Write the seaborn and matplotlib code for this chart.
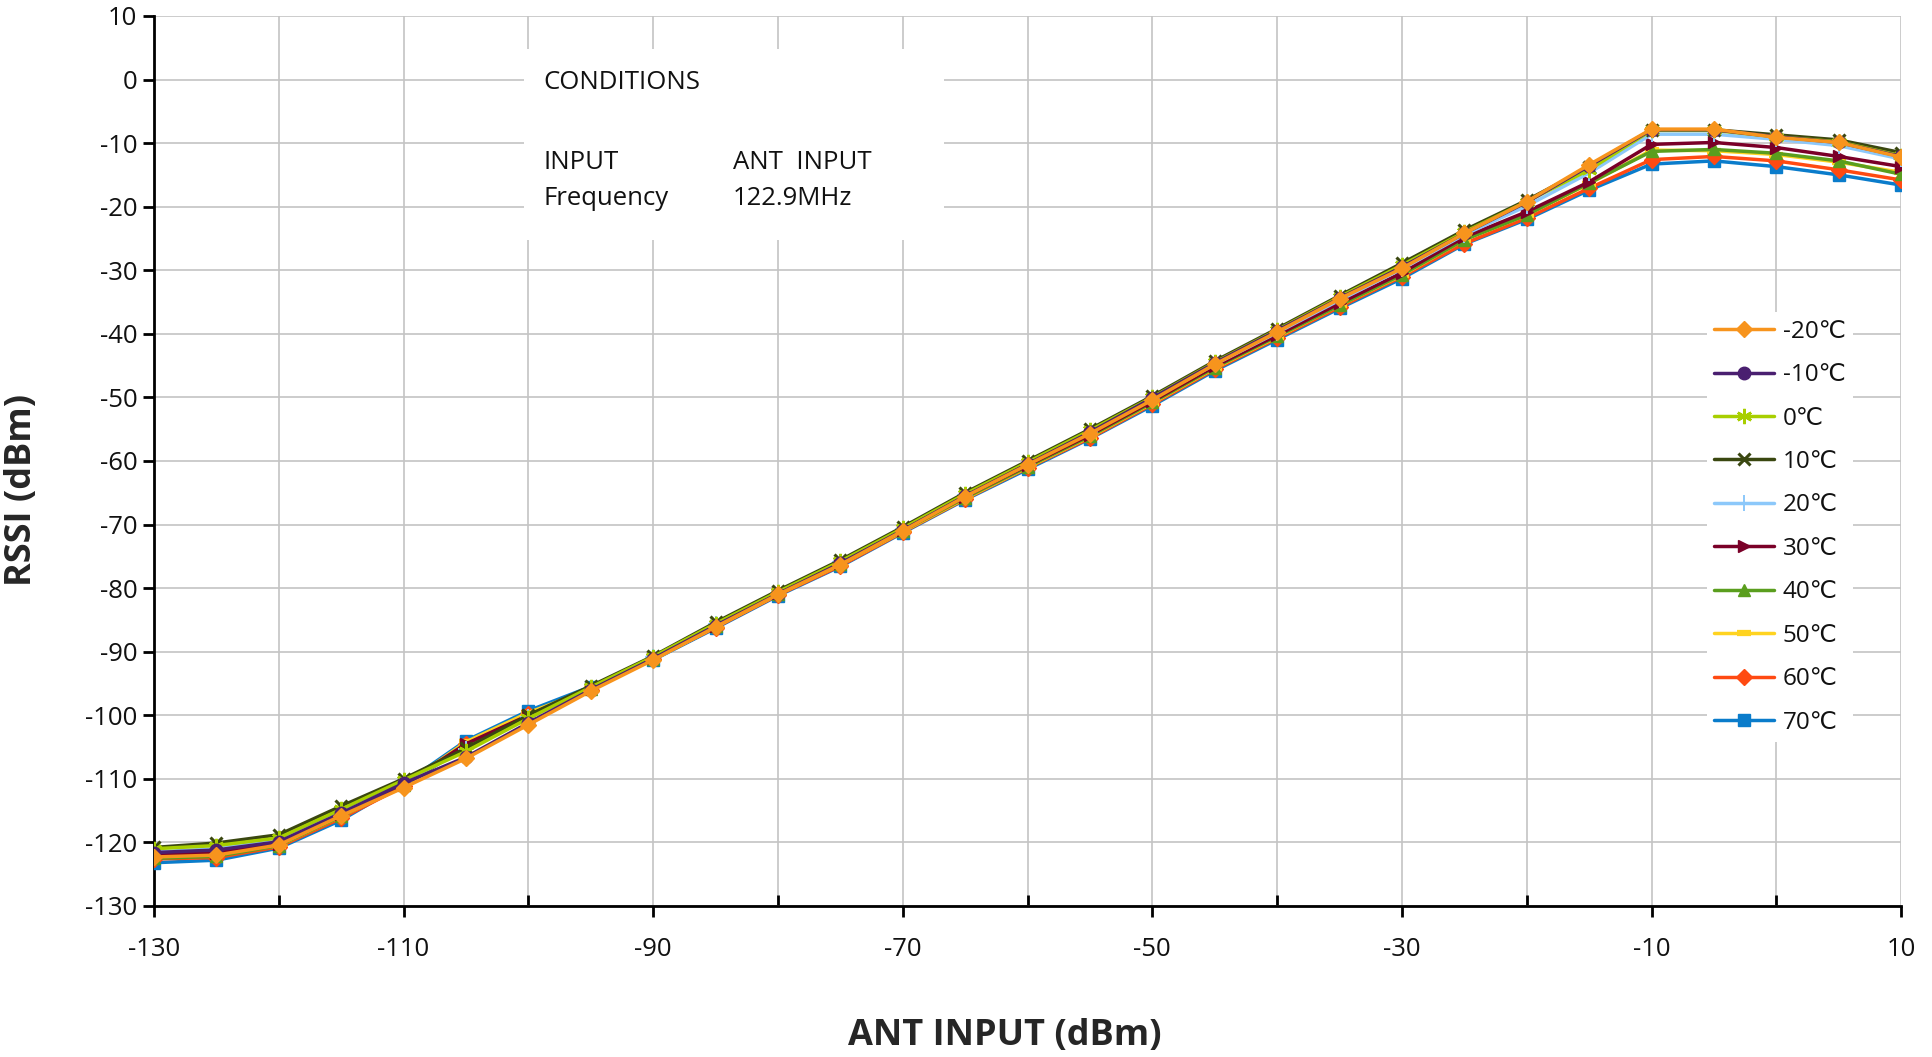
import numpy as np
import pandas as pd
import matplotlib
matplotlib.use('Agg')
import matplotlib.pyplot as plt
from matplotlib.patches import Rectangle
from matplotlib.ticker import MultipleLocator, FixedLocator
import seaborn as sns

# ANT input levels (dBm)
ant_input = [-130, -125, -120, -115, -110, -105, -100, -95, -90, -85, -80, -75, -70, -65,
             -60, -55, -50, -45, -40, -35, -30, -25, -20, -15, -10, -5, 0, 5, 10]

temps = ['-20℃', '-10℃', '0℃', '10℃', '20℃', '30℃', '40℃', '50℃', '60℃', '70℃']

rssi_m20 = [-122.3, -122.0, -120.4, -115.8, -111.4, -106.8, -101.5, -96.2, -91.3, -86.1, -81.0, -76.3,
            -71.0, -65.6, -60.6, -55.7, -50.4, -44.8, -39.7, -34.5, -29.7, -24.2, -19.2, -13.4,
            -7.8, -7.8, -9.1, -9.9, -12.2]
rssi_m10 = [-121.6, -121.2, -119.9, -115.4, -110.7, -106.6, -101.2, -96.0, -91.1, -85.9, -80.9, -76.1,
            -70.9, -65.5, -60.5, -55.5, -50.1, -44.6, -39.5, -34.4, -29.5, -24.2, -19.3, -13.6,
            -7.9, -7.9, -9.0, -9.9, -12.1]
rssi_0 = [-121.0, -120.5, -119.3, -114.8, -110.2, -105.7, -100.5, -95.6, -90.8, -85.6, -80.6, -75.8,
          -70.6, -65.2, -60.2, -55.2, -50.0, -44.5, -39.4, -34.2, -29.2, -24.0, -19.2, -14.2,
          -8.0, -8.0, -9.0, -9.8, -12.0]
rssi_10 = [-120.8, -120.1, -118.8, -114.3, -110.0, -105.2, -100.0, -95.4, -90.7, -85.4, -80.4, -75.6,
           -70.4, -65.0, -60.0, -55.0, -49.8, -44.3, -39.2, -34.0, -28.9, -23.7, -19.0, -13.8,
           -7.9, -7.9, -8.7, -9.5, -11.5]
rssi_20 = [-121.5, -121.0, -119.6, -115.0, -110.5, -105.3, -100.3, -95.7, -90.9, -85.7, -80.7, -75.9,
           -70.7, -65.4, -60.4, -55.5, -50.2, -44.8, -39.8, -34.7, -29.8, -24.4, -19.9, -14.7,
           -8.6, -8.6, -9.4, -10.4, -12.5]
rssi_30 = [-122.0, -121.6, -120.2, -115.6, -110.9, -104.5, -100.0, -95.8, -91.0, -85.9, -80.8, -76.1,
           -70.9, -65.6, -60.7, -55.9, -50.6, -45.1, -40.2, -35.2, -30.4, -24.8, -20.8, -16.1,
           -10.2, -9.9, -10.7, -12.1, -13.7]
rssi_40 = [-122.5, -122.2, -120.5, -115.9, -111.0, -105.0, -100.2, -95.8, -91.1, -86.0, -80.9, -76.2,
           -71.0, -65.8, -60.9, -56.1, -50.8, -45.3, -40.4, -35.5, -30.7, -25.2, -21.3, -16.3,
           -11.3, -11.0, -11.6, -12.8, -14.9]
rssi_50 = [-122.3, -121.9, -120.5, -115.9, -111.1, -104.2, -99.6, -95.9, -91.2, -86.1, -81.0, -76.3,
           -71.1, -65.9, -61.0, -56.2, -50.9, -45.4, -40.5, -35.5, -30.8, -25.2, -21.3, -16.4,
           -11.1, -11.2, -11.8, -13.0, -14.6]
rssi_60 = [-122.6, -122.4, -120.7, -116.2, -111.2, -104.5, -99.8, -96.0, -91.2, -86.2, -81.1, -76.5,
           -71.2, -66.0, -61.1, -56.4, -51.1, -45.6, -40.7, -35.8, -31.0, -25.8, -21.8, -17.1,
           -12.6, -12.1, -12.8, -14.2, -15.8]
rssi_70 = [-123.2, -122.8, -120.9, -116.5, -110.8, -104.0, -99.3, -95.5, -91.3, -86.3, -81.2, -76.6,
           -71.3, -66.1, -61.3, -56.5, -51.3, -45.8, -40.9, -36.0, -31.3, -25.9, -22.0, -17.4,
           -13.3, -12.8, -13.7, -15.0, -16.6]

all_rssi = [rssi_m20, rssi_m10, rssi_0, rssi_10, rssi_20, rssi_30, rssi_40, rssi_50, rssi_60, rssi_70]

colors = ['#F7941D', '#4A1F70', '#A8CF00', '#3A4710', '#8CC8FA',
          '#7A0028', '#5A9E1E', '#FFD320', '#FF4A12', '#0A7CCB']
# marker, size, edge width
styles = [('D', 8, 1), ('o', 9, 1), ((6, 2, 0), 11, 1.8), ('x', 9, 2.2), ('+', 12, 1.4),
          ('>', 9, 1), ('^', 9, 1), ('_', 10, 4.5), ('D', 8, 1), ('s', 8.5, 1)]

rows = []
for t, vals in zip(temps, all_rssi):
    for x, y in zip(ant_input, vals):
        rows.append({'temp': t, 'ant': x, 'rssi': y})
df = pd.DataFrame(rows)

sns.set_theme(style='white')
plt.rcParams['font.family'] = ['Open Sans', 'DejaVu Sans']
plt.rcParams['axes.unicode_minus'] = False

fig = plt.figure(figsize=(19.32, 10.57), dpi=100)
ax = fig.add_axes([0.0797, 0.1429, 0.9043, 0.842])

n = len(temps)
for i, t in enumerate(temps):
    sub = df[df['temp'] == t]
    m, ms, mew = styles[i]
    sns.lineplot(data=sub, x='ant', y='rssi', ax=ax, color=colors[i], label=t,
                 marker=m, markersize=ms, markeredgewidth=mew, markeredgecolor=colors[i],
                 linewidth=2.5, zorder=3 + (n - i) * 0.1, estimator=None, sort=False)

ax.set_xlim(-130, 10)
ax.set_ylim(-130, 10)
ax.xaxis.set_major_locator(FixedLocator(np.arange(-130, 11, 20)))
ax.xaxis.set_minor_locator(FixedLocator(np.arange(-120, 1, 20)))
ax.yaxis.set_major_locator(MultipleLocator(10))

ax.grid(True, which='both', color='#C4C4C4', linewidth=1.2, zorder=0)
ax.set_axisbelow(True)
for s in ['top', 'right']:
    ax.spines[s].set_visible(False)
for s in ['left', 'bottom']:
    ax.spines[s].set_color('black')
    ax.spines[s].set_linewidth(2.0)

ax.tick_params(axis='y', which='major', direction='out', length=8, width=2, color='black',
               labelsize=18.5, pad=4, left=True, labelcolor='#111111')
ax.tick_params(axis='x', which='major', direction='out', length=8, width=2, color='black',
               labelsize=18.5, pad=14.5, bottom=True, labelcolor='#111111')
ax.tick_params(axis='x', which='minor', direction='in', length=8, width=2, color='black',
               bottom=True)

ax.set_xlabel('ANT INPUT (dBm)', fontsize=26, fontweight='bold')
ax.set_ylabel('RSSI (dBm)', fontsize=26, fontweight='bold')
ax.xaxis.set_label_coords(0.487, -0.126)
ax.yaxis.set_label_coords(-0.0653, 0.467)

# conditions box
ax.add_patch(Rectangle((0.212, 0.748), 0.24, 0.215, transform=ax.transAxes,
                       facecolor='white', edgecolor='none', zorder=2))
txt_kw = dict(transform=ax.transAxes, fontsize=18.5, color='#111111', zorder=4,
              va='baseline', ha='left')
ax.text(0.2227, 0.918, 'CONDITIONS', **txt_kw)
ax.text(0.2227, 0.828, 'INPUT', **txt_kw)
ax.text(0.2227, 0.788, 'Frequency', **txt_kw)
ax.text(0.3314, 0.828, 'ANT  INPUT', **txt_kw)
ax.text(0.3314, 0.788, '122.9MHz', **txt_kw)

leg = ax.legend(loc='upper left', bbox_to_anchor=(0.889, 0.667), frameon=True,
                fontsize=17.5, handlelength=2.45, handletextpad=0.35, labelspacing=0.80,
                borderpad=0.3, borderaxespad=0, fancybox=False)
leg.get_frame().set_facecolor('white')
leg.get_frame().set_edgecolor('none')
leg.get_frame().set_alpha(1)
leg.set_zorder(5)
for txt in leg.get_texts():
    txt.set_color('#111111')

fig.savefig('out.png', dpi=100)
